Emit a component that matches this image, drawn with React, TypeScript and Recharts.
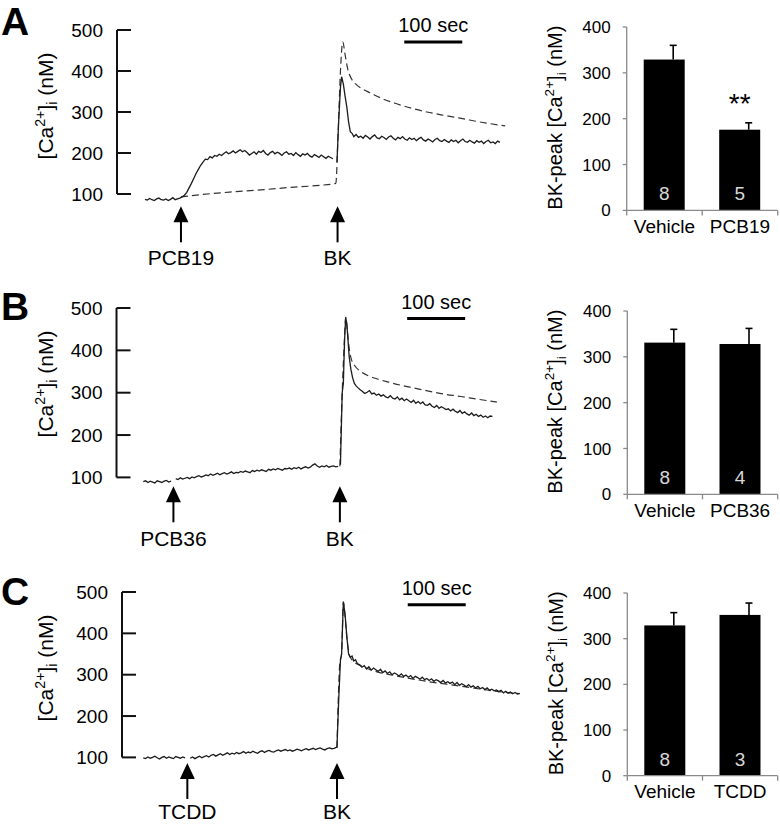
import React from 'react';
import { LineChart, Line, XAxis, YAxis, ReferenceLine, BarChart, Bar, LabelList } from 'recharts';

const FONT = "'Liberation Sans', Arial, Helvetica, sans-serif";
const AXIS_GRAY = '#8a8a8a';
const PX_PER_SEC = 0.58; // 100 sec scale bar = 58 px
const T0_PX = 145; // pixel x of t = 0
const PLOT_RIGHT = 525;

// ---------- traces (t in sec, [Ca2+]i in nM), noisy parts sampled every 4 s ----------
// A: PCB19
const A_SOLID_BASE = [
  87, 85, 89, 86, 84, 88, 90, 86, 85, 88, 84, 87, 91, 86, 88, 90,
  93, 97, 104, 115, 126, 138, 150, 160, 170, 178, 185,
  184, 191, 188, 194, 192, 197, 194, 199, 203, 198,
  201, 205, 200, 204, 208, 203, 206, 201, 195, 199,
  203, 197, 204, 201, 206, 199, 195, 201, 204, 198,
  202, 199, 194, 200, 203, 197, 199, 194, 201, 196,
  192, 198, 195, 199, 193, 190, 196, 193, 189, 195,
  191, 187, 192, 189, 186,
];
const A_SOLID_PEAK = [
  [331, 178], [334, 280], [337, 360], [339, 386], [342, 368], [345, 338],
  [348, 312], [351, 276], [354, 252], [357, 248], [360, 240],
];
const A_SOLID_TAIL = [
  245, 238, 241, 236, 243, 239, 234, 240, 244, 237,
  235, 241, 238, 233, 239, 242, 236, 232, 238, 235,
  240, 234, 231, 237, 233, 236, 230, 235, 238, 232,
  229, 234, 231, 227, 233, 236, 230, 228, 233, 229,
  226, 232, 228, 231, 225, 230, 234, 228, 226, 231,
  227, 224, 230, 226, 229, 223, 228, 231, 225, 227,
  223, 229, 226,
];
const A_DASHED = [
  [62, 93], [100, 99], [150, 105], [200, 110], [250, 116], [300, 121], [329, 126],
  [333, 250], [337, 400], [341, 471], [345, 440], [349, 408], [356, 381], [365, 366],
  [375, 356], [388, 347], [410, 332], [434, 320], [460, 309], [486, 300], [515, 292],
  [543, 285], [580, 275], [621, 266],
];
const A_EVENTS = [62, 332];
const A_EVENT_LABELS = ['PCB19', 'BK'];

// B: PCB36
const B_SOLID_BASE1 = [90, 92, 88, 91, 89, 87, 92, 90, 88, 91, 93, 89, 91];
const B_SOLID_BASE2 = [
  97, 95, 99, 96, 98, 100, 97, 101, 99, 102,
  104, 101, 103, 106, 104, 108, 105, 107, 110, 106,
  109, 111, 108, 110, 113, 109, 112, 111, 114, 112,
  115, 113, 111, 116, 114, 117, 115, 118, 116, 114,
  119, 117, 120, 118, 121, 119, 117, 121, 120, 122,
  119, 123, 121, 124, 120, 123, 125, 122, 124, 129,
  132, 127, 124, 127, 125, 128, 124, 126, 127, 125,
  126,
];
const B_SOLID_PEAK = [
  [337, 130], [340, 300], [342, 322], [344, 420], [346, 478], [348, 462], [350, 425],
  [352, 385], [355, 355], [358, 335], [361, 322], [364, 316], [367, 312],
];
const B_SOLID_TAIL = [
  307, 303, 298, 301, 305, 297, 299, 294, 297, 292,
  295, 290, 288, 293, 287, 285, 290, 283, 287, 281,
  285, 281, 277, 282, 275, 279, 274, 278, 271, 270,
  274, 268, 265, 270, 263, 267, 264, 260, 262, 257,
  261, 256, 253, 258, 251, 255, 250, 247, 252, 246,
  249, 244, 247, 242, 245, 241, 245, 244,
];
const B_DASHED = [
  [336, 126], [340, 300], [344, 430], [346, 478], [349, 445], [352, 405], [356, 378],
  [362, 363], [372, 350], [385, 340], [399, 333], [420, 325], [440, 318], [457, 313],
  [485, 305], [514, 297], [545, 291], [572, 285], [607, 278],
];
const B_EVENTS = [49, 336];
const B_EVENT_LABELS = ['PCB36', 'BK'];

// C: TCDD
const C_SOLID_BASE1 = [99, 97, 101, 98, 100, 103, 99, 96, 100, 102, 98, 101, 99, 97, 102, 100, 98, 101, 99];
const C_SOLID_BASE2 = [
  98, 101, 97, 100, 103, 99, 102, 104, 101, 105,
  107, 103, 106, 109, 105, 108, 111, 107, 110, 108,
  112, 109, 111, 114, 110, 113, 111, 115, 112, 110,
  114, 116, 112, 115, 117, 114, 113, 116, 118, 115,
  117, 119, 116, 118, 115, 117, 120, 118, 116, 119,
  121, 118, 120, 122, 119, 121, 123, 120, 118, 121,
  123, 121, 122,
];
const C_SOLID_PEAK = [
  [331, 125], [334, 240], [337, 335], [339, 350], [342, 477], [345, 445], [348, 392],
  [351, 350], [354, 342], [357, 345], [360, 333], [363, 336], [366, 327],
];
const C_SOLID_TAIL = [
  324, 318, 322, 314, 319, 311, 316, 312, 308, 313,
  305, 309, 303, 307, 300, 304, 301, 297, 302, 296,
  299, 294, 298, 291, 296, 293, 289, 294, 288, 291,
  286, 290, 284, 288, 285, 281, 286, 280, 283, 279,
  282, 276, 281, 274, 278, 275, 271, 276, 270, 273,
  268, 272, 266, 269, 264, 268, 262, 265, 261, 263,
  259, 262, 256, 260, 255, 258, 254, 257, 253, 255,
];
const C_DASHED = [
  [331, 123], [336, 330], [339, 350], [342, 475], [345, 440], [348, 390], [353, 345],
  [360, 332], [375, 320], [400, 307], [430, 298], [460, 290], [490, 283], [520, 277],
  [550, 271], [580, 265], [610, 259], [646, 254],
];
const C_EVENTS = [73, 331];
const C_EVENT_LABELS = ['TCDD', 'BK'];

const TRACE_TICKS = [100, 200, 300, 400, 500];
const SCALE_BAR_SEC = 100;

// ---------- BK-peak bars ----------
const BAR_TICKS = [0, 100, 200, 300, 400];
const BAR_A_CATS = ['Vehicle', 'PCB19'];
const BAR_A_MEAN = [329, 176];
const BAR_A_ERR = [31, 15];
const BAR_A_N = ['8', '5'];
const BAR_A_SIG = ['', '**'];

const BAR_B_CATS = ['Vehicle', 'PCB36'];
const BAR_B_MEAN = [331, 328];
const BAR_B_ERR = [29, 34];
const BAR_B_N = ['8', '4'];
const BAR_B_SIG = ['', ''];

const BAR_C_CATS = ['Vehicle', 'TCDD'];
const BAR_C_MEAN = [329, 352];
const BAR_C_ERR = [28, 26];
const BAR_C_N = ['8', '3'];
const BAR_C_SIG = ['', ''];

type Pt = { t: number; v: number | null };
const even = (t0: number, step: number, vals: number[]): Pt[] => vals.map((v, i) => ({ t: t0 + i * step, v }));
const pairs = (p: number[][]): Pt[] => p.map(([t, v]) => ({ t, v }));
const gap = (t: number): Pt => ({ t, v: null });

const ROWS = [
  {
    letter: 'A', letterY: 35, labelDy: 59,
    plotLeft: 117, plotTop: 30, yMin: 70, pxPerNm: 0.41,
    solid: [...even(0, 4, A_SOLID_BASE), gap(328), ...pairs(A_SOLID_PEAK), ...even(364, 4, A_SOLID_TAIL)],
    dashed: pairs(A_DASHED),
    events: A_EVENTS, eventLabels: A_EVENT_LABELS,
    scaleT: 447, scaleY: 471,
    bar: { plotLeft: 626.7, plotTop: 27.3, plotBottom: 210.7, cats: BAR_A_CATS, mean: BAR_A_MEAN, err: BAR_A_ERR, n: BAR_A_N, sig: BAR_A_SIG },
  },
  {
    letter: 'B', letterY: 320, labelDy: 60,
    plotLeft: 116.5, plotTop: 308.3, yMin: 79, pxPerNm: 0.4235,
    solid: [...even(-3, 4, B_SOLID_BASE1), gap(49), ...even(53, 4, B_SOLID_BASE2), gap(335), ...pairs(B_SOLID_PEAK), ...even(371, 4, B_SOLID_TAIL)],
    dashed: pairs(B_DASHED),
    events: B_EVENTS, eventLabels: B_EVENT_LABELS,
    scaleT: 452, scaleY: 475,
    bar: { plotLeft: 627.3, plotTop: 311, plotBottom: 494.3, cats: BAR_B_CATS, mean: BAR_B_MEAN, err: BAR_B_ERR, n: BAR_B_N, sig: BAR_B_SIG },
  },
  {
    letter: 'C', letterY: 605, labelDy: 56.5,
    plotLeft: 122, plotTop: 592.3, yMin: 86.5, pxPerNm: 0.4135,
    solid: [...even(-3, 4, C_SOLID_BASE1), gap(74), ...even(78, 4, C_SOLID_BASE2), ...pairs(C_SOLID_PEAK), ...even(370, 4, C_SOLID_TAIL)],
    dashed: pairs(C_DASHED),
    events: C_EVENTS, eventLabels: C_EVENT_LABELS,
    scaleT: 453, scaleY: 469,
    bar: { plotLeft: 627.3, plotTop: 593.3, plotBottom: 776, cats: BAR_C_CATS, mean: BAR_C_MEAN, err: BAR_C_ERR, n: BAR_C_N, sig: BAR_C_SIG },
  },
];

const CaText = ({ cx, cy, prefix, fs }: { cx: number; cy: number; prefix: string; fs: number }) => (
  <text
    x={cx}
    y={cy}
    transform={`rotate(-90 ${cx} ${cy})`}
    textAnchor="middle"
    style={{ fontSize: fs, fontFamily: FONT }}
    fill="#000"
  >
    {prefix}[Ca
    <tspan dy={-0.4 * fs} style={{ fontSize: 0.68 * fs }}>2+</tspan>
    <tspan dy={0.4 * fs}>]</tspan>
    <tspan dy={0.2 * fs} style={{ fontSize: 0.68 * fs }}>i</tspan>
    <tspan dy={-0.2 * fs}>{' (nM)'}</tspan>
  </text>
);

const TraceYTick = (p: any) => (
  <g>
    <line x1={p.x} x2={p.x + 14} y1={p.y} y2={p.y} stroke="#111" strokeWidth={2} />
    <text x={p.x - 14} y={p.y} dy={6.8} textAnchor="end" fontSize={19} fill="#000">
      {p.payload.value}
    </text>
  </g>
);

const makeArrowTick = (labels: string[], labelDy: number) => (p: any) => {
  const { x, y, index } = p;
  return (
    <g>
      <polygon points={`${x},${y} ${x - 7.5},${y + 16} ${x + 7.5},${y + 16}`} fill="#000" />
      <line x1={x} x2={x} y1={y + 15} y2={y + 36} stroke="#000" strokeWidth={2} />
      <text x={x} y={y + labelDy} textAnchor="middle" fontSize={21} fill="#000">
        {labels[index]}
      </text>
    </g>
  );
};

function TraceChart({ row }: { row: (typeof ROWS)[number] }) {
  const plotH = (500 - row.yMin) * row.pxPerNm;
  const tMin = (row.plotLeft - T0_PX) / PX_PER_SEC;
  const tMax = (PLOT_RIGHT - T0_PX) / PX_PER_SEC;
  return (
    <div style={{ position: 'absolute', left: 0, top: row.plotTop - 30 }}>
      <LineChart width={PLOT_RIGHT + 5} height={30 + plotH + 75} margin={{ top: 30, right: 5, bottom: 0, left: 0 }}>
        <XAxis
          type="number"
          dataKey="t"
          domain={[tMin, tMax]}
          ticks={row.events}
          interval={0}
          axisLine={false}
          tickLine={false}
          tickSize={0}
          tickMargin={0}
          height={75}
          tick={makeArrowTick(row.eventLabels, row.labelDy)}
        />
        <YAxis
          type="number"
          domain={[row.yMin, 500]}
          ticks={TRACE_TICKS}
          interval={0}
          axisLine={false}
          tickLine={false}
          tickSize={0}
          tickMargin={0}
          width={row.plotLeft}
          tick={TraceYTick}
          label={{ content: () => <CaText cx={53} cy={106} prefix="" fs={21} /> }}
        />
        <ReferenceLine
          segment={[{ x: tMin, y: 100 }, { x: tMin, y: 500 }]}
          stroke="#111"
          strokeWidth={2}
          ifOverflow="visible"
        />
        <ReferenceLine
          segment={[{ x: row.scaleT, y: row.scaleY }, { x: row.scaleT + SCALE_BAR_SEC, y: row.scaleY }]}
          stroke="#000"
          strokeWidth={3}
          ifOverflow="visible"
          label={{ value: `${SCALE_BAR_SEC} sec`, position: 'top', offset: 9.4, fontSize: 20, fill: '#000' }}
        />
        <Line
          data={row.dashed}
          dataKey="v"
          type="monotone"
          stroke="#333"
          strokeWidth={1.2}
          strokeDasharray="7 4"
          dot={false}
          activeDot={false}
          isAnimationActive={false}
        />
        <Line
          data={row.solid}
          dataKey="v"
          type="linear"
          stroke="#1c1c1c"
          strokeWidth={1.3}
          dot={false}
          activeDot={false}
          connectNulls={false}
          isAnimationActive={false}
        />
      </LineChart>
    </div>
  );
}

const ErrShape = (p: any) => {
  const { x, y, width, height, payload } = p;
  const cx = x + width / 2 + 9;
  const errTop = y - (payload.err * height) / payload.mean;
  return (
    <g>
      <rect x={x} y={y} width={width} height={height} fill="#000" />
      <line x1={cx} x2={cx} y1={y} y2={errTop} stroke="#000" strokeWidth={1.6} />
      <line x1={cx - 3.5} x2={cx + 3.5} y1={errTop} y2={errTop} stroke="#000" strokeWidth={1.6} />
    </g>
  );
};

const NLabel = (p: any) => {
  const vb = p.viewBox ?? p;
  return (
    <text x={vb.x + vb.width / 2} y={vb.y + vb.height - 10} textAnchor="middle" fontSize={19} fill="#d8d8d8">
      {p.value}
    </text>
  );
};

const SigLabel = (p: any) => {
  if (!p.value) return null;
  const vb = p.viewBox ?? p;
  return (
    <text x={vb.x + vb.width / 2} y={vb.y - 17} textAnchor="middle" fontSize={28} fill="#000">
      {p.value}
    </text>
  );
};

function PeakBars({ bar }: { bar: (typeof ROWS)[number]['bar'] }) {
  const data = bar.cats.map((c, i) => ({ name: c, mean: bar.mean[i], err: bar.err[i], n: bar.n[i], sig: bar.sig[i] }));
  const plotH = bar.plotBottom - bar.plotTop;
  const last = bar.cats.length - 1;
  const XTick = (p: any) => {
    const half = p.payload?.offset ?? 37.7;
    return (
      <g>
        <line x1={p.x - half} x2={p.x - half} y1={p.y} y2={p.y + 5} stroke={AXIS_GRAY} strokeWidth={1.3} />
        {p.index === last && (
          <line x1={p.x + half} x2={p.x + half} y1={p.y} y2={p.y + 5} stroke={AXIS_GRAY} strokeWidth={1.3} />
        )}
        <text x={p.x} y={p.y + 22.5} textAnchor="middle" fontSize={19} fill="#000">
          {p.payload.value}
        </text>
      </g>
    );
  };
  return (
    <div style={{ position: 'absolute', left: 520, top: bar.plotTop - 20 }}>
      <BarChart
        width={260}
        height={20 + plotH + 40}
        data={data}
        margin={{ top: 20, right: 260 - (777.7 - 520), bottom: 0, left: 0 }}
      >
        <XAxis
          dataKey="name"
          axisLine={{ stroke: AXIS_GRAY, strokeWidth: 1.3 }}
          tickLine={false}
          tickSize={0}
          tickMargin={0}
          height={40}
          interval={0}
          tick={XTick}
        />
        <YAxis
          domain={[0, 400]}
          ticks={BAR_TICKS}
          interval={0}
          width={bar.plotLeft - 520}
          axisLine={{ stroke: AXIS_GRAY, strokeWidth: 1.3 }}
          tickLine={{ stroke: AXIS_GRAY, strokeWidth: 1.3 }}
          tickSize={4}
          tickMargin={12}
          tick={{ fontSize: 17, fill: '#000' }}
          label={{ content: () => <CaText cx={42.5} cy={20 + plotH / 2 - 1} prefix="BK-peak " fs={20} /> }}
        />
        <Bar dataKey="mean" barSize={41} shape={ErrShape} isAnimationActive={false}>
          <LabelList dataKey="n" content={NLabel} />
          <LabelList dataKey="sig" content={SigLabel} />
        </Bar>
      </BarChart>
    </div>
  );
}

export default function App() {
  return (
    <div
      style={{
        position: 'absolute',
        left: 0,
        top: 0,
        width: 780,
        height: 825,
        overflow: 'hidden',
        background: '#fff',
        fontFamily: FONT,
      }}
    >
      <svg width={780} height={825} style={{ position: 'absolute', left: 0, top: 0 }}>
        {ROWS.map((r) => (
          <text key={r.letter} x={1} y={r.letterY} fontSize={39} fontWeight="bold" fill="#000">
            {r.letter}
          </text>
        ))}
      </svg>
      {ROWS.map((r) => (
        <React.Fragment key={r.letter}>
          <TraceChart row={r} />
          <PeakBars bar={r.bar} />
        </React.Fragment>
      ))}
    </div>
  );
}
